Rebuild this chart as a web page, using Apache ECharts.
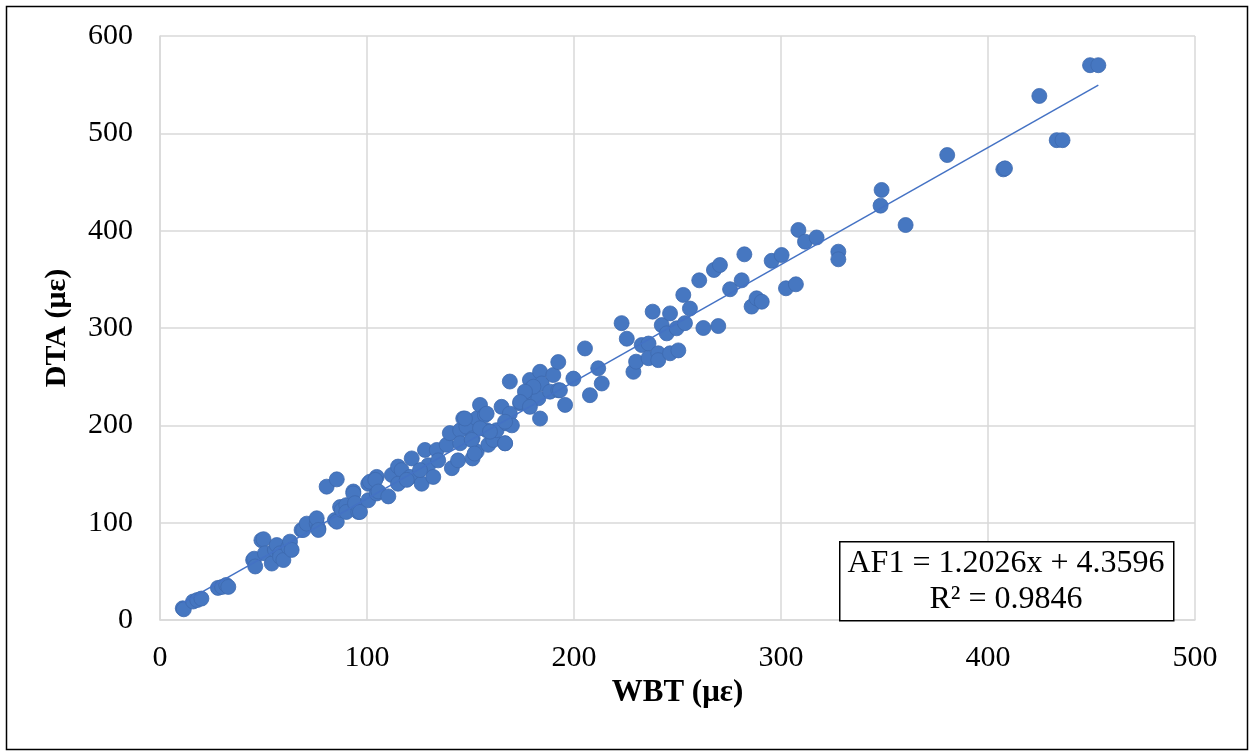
<!DOCTYPE html>
<html>
<head>
<meta charset="utf-8">
<script src="https://cdn.jsdelivr.net/npm/echarts@6/dist/echarts.min.js"></script>
<style>
html,body{margin:0;padding:0;background:#fff;}
#chart{width:1250px;height:751px;}
</style>
</head>
<body>
<div id="chart"></div>
<script>
// WBT (x) and DTA (y) readings
const wbt = [11,11.5,16,18,20,28,30,32,33,
45,45.5,46,49,50,50.7,54,55.5,56.4,58,58,59.6,62,62.8,63.6,
68.4,69.2,70.9,75.7,76.5,75.7,76.5,80.5,85.4,84.5,85.4,87,87.8,90,90,93.4,93.4,94.2,95.8,96.6,
100.6,100.6,101.4,104.7,104,104.7,105.5,110.3,112,115,116.7,115,121.6,120.8,126.4,128,129.6,132,133.7,134.4,
138.5,140,141,144,145,146.5,148,151,151,153,153,154.6,157,157.8,158.6,161,162.6,165,166.7,167.4,169,170,169,
174,177,178.7,179.5,182.8,183.6,184.4,183.6,188.4,190,192.4,192.4,195.7,199.7,
157.8,154.6,159.4,145,150.6,166.7,125.6,119.2,152,180.4,176.3,193.2,174,178.7,147.3,166.7,
205.3,211.7,213.4,207.7,223,225.5,228.7,230,232.7,236,236,238,240.7,240.7,242.4,244.8,246.4,246.4,249.6,250.4,
252.8,253.6,256,260.5,262.5,267.6,270.5,269.7,275.4,281,282.3,285.8,288.2,290.7,295.5,300.3,302.4,307.2,308.4,311.6,317.2,327.7,327.7,
348.1,348.6,360.2,380.3,407.4,408.2,424.8,433.2,436,449.3,453.3];
const dta = [12,11,19,20.5,22,33,34,36,34,
61.6,63,55,82,83,68.5,58,72,77,68.5,65,61.6,75,80.5,72,
92.5,92.5,99,99,94,104.5,92.5,137,144.5,102.7,101,116,113,118,111,132,130,120,111,111,
123,140,142,147,144,130,132,127,149,157.6,154,140,166,147,140,174.7,159,147,174.7,164,
180,192,156,164,195,207,198.6,186.7,166,173,207,221,210.6,195,180,185,195,219,181.5,202,212,200,245,
222.6,233,246.6,238,227.8,255,243,207,234.6,251.7,236,265,221,248,
212,197,193.5,181.6,185,181.6,154,144,171,239.7,234.6,236,224,219,207,203.7,
279,258.6,243,231,305,289,255,265.4,282.5,284,269,316.8,274,267,303,294.5,315,274,299.7,277,
334,305,320,349,300,359.6,364.7,302,339.8,349,375.7,322,330.5,327,369,375,340.8,344.9,400.7,388.7,393,378.4,370.6,
425.7,441.8,405.8,477.7,463,464,538.4,493,493,570,570];

// Excel linear trendline reported in the chart
const slope = 1.2026, intercept = 4.3596;
const trendX = [Math.min(...wbt), Math.max(...wbt)];
const eqLabel = 'AF1 = 1.2026x + 4.3596';
const r2Label = 'R\u00B2 = 0.9846';

const xTicks = {min: 0, max: 500, interval: 100};
const yTicks = {min: 0, max: 600, interval: 100};

const points = wbt.map((x, i) => [x, dta[i]]);
const trend = trendX.map(x => [x, slope * x + intercept]);

const chart = echarts.init(document.getElementById('chart'), null, {renderer: 'canvas'});
const font = '"Liberation Serif", "Times New Roman", serif';
const grid = {left: 160, top: 36, right: 55, bottom: 131};

chart.setOption({
  animation: false,
  backgroundColor: '#ffffff',
  textStyle: {fontFamily: font},
  grid: grid,
  xAxis: {
    type: 'value', min: xTicks.min, max: xTicks.max, interval: xTicks.interval,
    name: 'WBT (\u03BC\u03B5)', nameLocation: 'middle', nameGap: 55,
    nameTextStyle: {fontFamily: font, fontSize: 31, fontWeight: 'bold', color: '#000'},
    axisLine: {show: true, lineStyle: {color: '#d9d9d9', width: 1.5}},
    axisTick: {show: false},
    axisLabel: {fontFamily: font, fontSize: 30, color: '#000', margin: 23},
    splitLine: {show: true, lineStyle: {color: '#d9d9d9', width: 1.5}}
  },
  yAxis: {
    type: 'value', min: yTicks.min, max: yTicks.max, interval: yTicks.interval,
    name: 'DTA (\u03BC\u03B5)', nameLocation: 'middle', nameGap: 88, nameRotate: 90,
    nameTextStyle: {fontFamily: font, fontSize: 30, fontWeight: 'bold', color: '#000'},
    axisLine: {show: true, lineStyle: {color: '#d9d9d9', width: 1.5}},
    axisTick: {show: false},
    axisLabel: {fontFamily: font, fontSize: 30, color: '#000', margin: 27},
    splitLine: {show: true, lineStyle: {color: '#d9d9d9', width: 1.5}}
  },
  series: [
    {
      type: 'scatter', data: points, symbol: 'circle', symbolSize: 15,
      itemStyle: {color: '#4677C1', borderColor: '#3D69AE', borderWidth: 0.8, opacity: 1},
      z: 2
    },
    {
      type: 'line', data: trend, showSymbol: false, symbol: 'none',
      lineStyle: {color: '#4472C4', width: 1.5}, z: 3, silent: true
    }
  ],
  graphic: [
    {type: 'rect', left: 4, top: 4, shape: {width: 1241, height: 743},
     style: {fill: 'none', stroke: '#000', lineWidth: 1.5}, silent: true},
    {type: 'rect', left: 839, top: 541, shape: {width: 334, height: 79},
     style: {fill: '#fff', stroke: '#000', lineWidth: 1.5}, z: 10},
    {type: 'text', z: 11, x: 1006, y: 564,
     style: {text: eqLabel, font: '32px ' + font, fill: '#000', align: 'center', verticalAlign: 'middle'}},
    {type: 'text', z: 11, x: 1006, y: 600,
     style: {text: r2Label, font: '32px ' + font, fill: '#000', align: 'center', verticalAlign: 'middle'}}
  ]
});
</script>
</body>
</html>
